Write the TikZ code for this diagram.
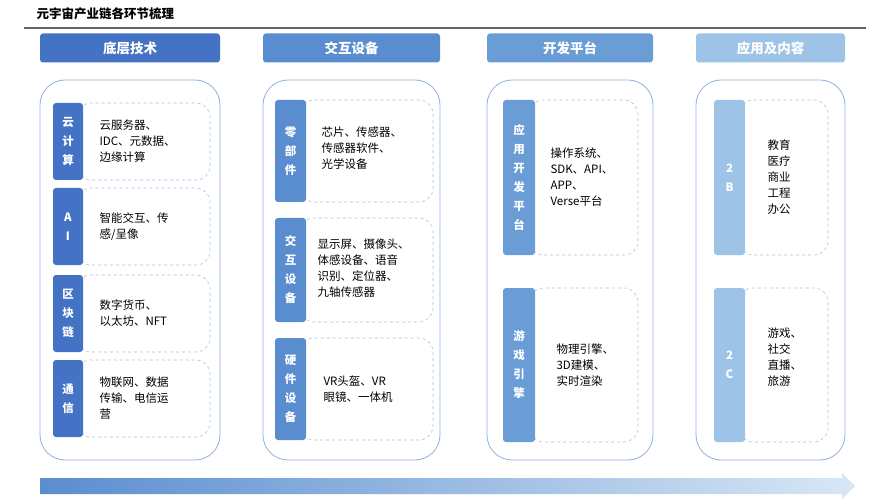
\documentclass[tikz,border=0pt]{standalone}
\usepackage{fontspec}
\setmainfont{Noto Sans CJK SC}
\usetikzlibrary{positioning}
\definecolor{colA}{HTML}{4472C4}
\definecolor{colB}{HTML}{5A8DD0}
\definecolor{colC}{HTML}{6A9DD6}
\definecolor{colD}{HTML}{9DC3E6}
\definecolor{frame}{HTML}{8FB0E0}
\tikzset{
  header/.style={fill=#1, rounded corners=3pt, text=white, font=\bfseries\fontsize{13.5}{15}\selectfont, minimum height=29pt, inner sep=0pt},
  bigframe/.style={draw=frame, rounded corners=25pt, line width=0.8pt},
  dashbox/.style={draw=frame!80, dashed, rounded corners=14pt, line width=0.6pt},
  sidebar/.style={fill=#1, rounded corners=3pt},
  sidetext/.style={text=white, font=\bfseries\fontsize{11.5}{19}\selectfont, align=center},
  itemtext/.style={font=\fontsize{11.5}{16}\selectfont, align=left, anchor=west}
}
\newcommand{\itembox}[7]{% name, color, x1, xs, x2, y1, y2
  \draw[dashbox] (#4-6,#6) rectangle (#5,#7);
  \fill[sidebar=#2] (#3,#6) rectangle (#4,#7);
}
\begin{document}
\begin{tikzpicture}[x=1pt,y=-1pt]
\useasboundingbox (0,0) rectangle (879,500);
% title
\node[anchor=west, font=\bfseries\fontsize{12.5}{14}\selectfont] (title) at (33,14) {元宇宙产业链各环节梳理};
\draw[line width=1.5pt, black!60] (24,28) -- (866,28);
% headers
\node[header=colA, minimum width=180pt] (h1) at (130,48) {底层技术};
\node[header=colB, minimum width=177pt] (h2) at (351.5,48) {交互设备};
\node[header=colC, minimum width=166pt] (h3) at (570,48) {开发平台};
\node[header=colD, minimum width=149pt] (h4) at (770.5,48) {应用及内容};
% frames
\draw[bigframe] (40,80) rectangle (220,460);
\draw[bigframe] (263,80) rectangle (440,460);
\draw[bigframe] (487,80) rectangle (653,460);
\draw[bigframe] (696,80) rectangle (845,460);
% column 1
\itembox{a1}{colA}{53}{83}{210}{103}{180}
\itembox{a2}{colA}{53}{83}{210}{188}{265}
\itembox{a3}{colA}{53}{83}{210}{275}{352}
\itembox{a4}{colA}{53}{83}{210}{360}{437}
\node[sidetext] (s1) at (68,141.5) {云\\计\\算};
\node[sidetext] (s2) at (68,226.5) {A\\I};
\node[sidetext] (s3) at (68,313.5) {区\\块\\链};
\node[sidetext] (s4) at (68,398.5) {通\\信};
\node[itemtext] (t1) at (96,141.5) {云服务器、\\IDC、元数据、\\边缘计算};
\node[itemtext] (t2) at (96,226.5) {智能交互、传\\感/呈像};
\node[itemtext] (t3) at (96,313.5) {数字货币、\\以太坊、NFT};
\node[itemtext] (t4) at (96,398.5) {物联网、数据\\传输、电信运\\营};
% column 2
\itembox{b1}{colB}{275}{306}{433}{100}{202}
\itembox{b2}{colB}{275}{306}{433}{218}{322}
\itembox{b3}{colB}{275}{306}{433}{338}{440}
\node[sidetext] (s5) at (290.5,151) {零\\部\\件};
\node[sidetext] (s6) at (290.5,270) {交\\互\\设\\备};
\node[sidetext] (s7) at (290.5,389) {硬\\件\\设\\备};
\node[itemtext] (t5) at (318,148) {芯片、传感器、\\传感器软件、\\光学设备};
\node[itemtext] (t6) at (314,268) {显示屏、摄像头、\\体感设备、语音\\识别、定位器、\\九轴传感器};
\node[itemtext] (t7) at (320,389) {VR头盔、VR\\眼镜、一体机};
% column 3
\itembox{c1}{colC}{503}{535}{638}{100}{255}
\itembox{c2}{colC}{503}{535}{638}{288}{442}
\node[sidetext] (s8) at (519,177.5) {应\\用\\开\\发\\平\\台};
\node[sidetext] (s9) at (519,365) {游\\戏\\引\\擎};
\node[itemtext] (t8) at (547,177) {操作系统、\\SDK、API、\\APP、\\Verse平台};
\node[itemtext] (t9) at (553,365) {物理引擎、\\3D建模、\\实时渲染};
% column 4
\itembox{d1}{colD}{714}{745}{828}{100}{255}
\itembox{d2}{colD}{714}{745}{828}{288}{442}
\node[sidetext] (s10) at (729.5,177.5) {2\\B};
\node[sidetext] (s11) at (729.5,365) {2\\C};
\node[itemtext] (t10) at (764,177) {教育\\医疗\\商业\\工程\\办公};
\node[itemtext] (t11) at (764,357) {游戏、\\社交\\直播、\\旅游};
% bottom arrow
\shade[left color=colB, right color=colD!40] (40,478) -- (842,478) -- (842,473) -- (855,486) -- (842,499) -- (842,494) -- (40,494) -- cycle;
\end{tikzpicture}
\end{document}
